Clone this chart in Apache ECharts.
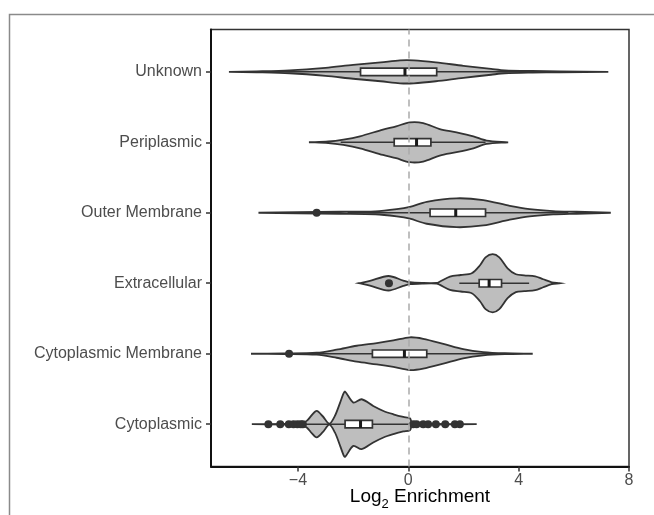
<!DOCTYPE html>
<html>
<head>
<meta charset="utf-8">
<script src="https://cdn.jsdelivr.net/npm/echarts@6/dist/echarts.min.js"></script>
<style>
  html, body { margin: 0; padding: 0; background: #fff; }
  #chart { width: 654px; height: 515px; }
</style>
</head>
<body>
<div id="chart"></div>
<script>
// categories, bottom to top
const categories = ['Cytoplasmic', 'Cytoplasmic Membrane', 'Extracellular', 'Outer Membrane', 'Periplasmic', 'Unknown']
const xTicks = [-4, 0, 4, 8]

// violin outlines: log2 enrichment and density half-width (category units)
const cytoX = [-5.67, -4.5, -3.9, -3.68, -3.5, -3.32, -3.1, -2.86, -2.66, -2.47, -2.35, -2.29, -1.99, -1.69, -1.27, -0.9, -0.54, -0.18, 0.06, 0.15, 1.0, 2.48]
const cytoD = [0, 0.004, 0.011, 0.047, 0.127, 0.188, 0.113, 0.007, 0.117, 0.307, 0.434, 0.463, 0.307, 0.354, 0.259, 0.188, 0.141, 0.103, 0.085, 0.014, 0.004, 0]

const cytoMemX = [-5.70, -4.5, -3.32, -2.6, -1.87, -1.14, -0.54, 0.06, 0.54, 1.27, 1.99, 2.72, 3.5, 4.51]
const cytoMemD = [0, 0.004, 0.014, 0.057, 0.113, 0.151, 0.188, 0.233, 0.212, 0.141, 0.066, 0.024, 0.007, 0]

const extraX = [-1.79, -1.39, -0.72, -0.18, 0.06, 0.5, 1.03, 1.15, 1.51, 1.9, 2.3, 2.6, 2.8, 3.06, 3.3, 3.6, 3.9, 4.2, 4.6, 4.89, 5.2, 5.47]
const extraD = [0, 0.033, 0.103, 0.038, 0.014, 0.004, 0.004, 0.024, 0.094, 0.117, 0.141, 0.255, 0.368, 0.414, 0.368, 0.212, 0.127, 0.113, 0.099, 0.057, 0.014, 0]

const outerX = [-5.43, -4.0, -2.5, -1.2, -0.42, 0.06, 0.67, 1.75, 2.72, 3.68, 4.4, 5.25, 6.1, 7.34]
const outerD = [0, 0.007, 0.014, 0.021, 0.052, 0.085, 0.156, 0.205, 0.180, 0.099, 0.052, 0.024, 0.014, 0]

const periX = [-3.6, -2.9, -2.35, -1.75, -0.92, -0.44, 0.06, 0.54, 1.14, 1.75, 2.36, 2.84, 3.62]
const periD = [0, 0.011, 0.038, 0.085, 0.180, 0.226, 0.283, 0.273, 0.188, 0.141, 0.085, 0.024, 0]

const unknownX = [-6.5, -5.5, -4.3, -3.0, -2.0, -1.0, -0.3, 0.2, 1.0, 2.0, 3.0, 3.5, 4.5, 5.5, 7.25]
const unknownD = [0, 0.007, 0.021, 0.057, 0.099, 0.134, 0.163, 0.163, 0.134, 0.085, 0.042, 0.021, 0.011, 0.007, 0]

// box stats: [whisker low, q1, median, q3, whisker high]
const cytoBox = [-3.75, -2.29, -1.73, -1.30, 0.1]
const cytoMemBox = [-4.2, -1.30, -0.14, 0.67, 3.5]
const extraBox = [1.85, 2.57, 2.93, 3.38, 4.38]
const outerBox = [-2.2, 0.79, 1.72, 2.80, 5.8]
const periBox = [-2.45, -0.51, 0.30, 0.82, 2.8]
const unknownBox = [-5.87, -1.73, -0.12, 1.03, 5.17]

// outliers per category
const cytoOut = [-5.07, -4.64, -4.33, -4.16, -4.02, -3.9, -3.82, 0.18, 0.30, 0.54, 0.72, 1.0, 1.34, 1.69, 1.87]
const cytoMemOut = [-4.32]
const extraOut = [-0.70]
const outerOut = [-3.32]

const violinX = [cytoX, cytoMemX, extraX, outerX, periX, unknownX]
const violinD = [cytoD, cytoMemD, extraD, outerD, periD, unknownD]
const boxes = [cytoBox, cytoMemBox, extraBox, outerBox, periBox, unknownBox]
const outliers = [cytoOut, cytoMemOut, extraOut, outerOut, [], []]

const BOX_H = 0.053
const INK = '#333333'

var outlierData = []
outliers.forEach(function(list, i) {
  list.forEach(function(v) { outlierData.push([v, i + 1]) })
})

function renderViolin(params, api) {
  var i = api.value(0)
  var yc = i + 1
  var xs = violinX[i], ds = violinD[i]
  var pts = []
  for (var k = 0; k < xs.length; k++) pts.push(api.coord([xs[k], yc + ds[k]]))
  for (var k2 = xs.length - 1; k2 >= 0; k2--) pts.push(api.coord([xs[k2], yc - ds[k2]]))
  var b = boxes[i]
  var lo = api.coord([b[0], yc]), hi = api.coord([b[4], yc])
  var tl = api.coord([b[1], yc + BOX_H]), br = api.coord([b[3], yc - BOX_H])
  var mt = api.coord([b[2], yc + BOX_H]), mb = api.coord([b[2], yc - BOX_H])
  return {
    type: 'group',
    children: [
      { type: 'polygon', shape: { points: pts, smooth: 0.3 }, style: { fill: '#bebebe', stroke: INK, lineWidth: 1.8 } },
      { type: 'line', shape: { x1: lo[0], y1: lo[1], x2: hi[0], y2: hi[1] }, style: { stroke: INK, lineWidth: 1.6 } },
      { type: 'rect', shape: { x: tl[0], y: tl[1], width: br[0] - tl[0], height: br[1] - tl[1] }, style: { fill: '#fff', stroke: INK, lineWidth: 1.7 } },
      { type: 'line', shape: { x1: mt[0], y1: mt[1], x2: mb[0], y2: mb[1] }, style: { stroke: '#1a1a1a', lineWidth: 3 } }
    ]
  }
}

var chart = echarts.init(document.getElementById('chart'))
chart.setOption({
  animation: false,
  backgroundColor: '#fff',
  graphic: [{
    type: 'rect', left: 7, top: 12, silent: true, z: -1,
    shape: { width: 700, height: 600 },
    style: { fill: 'none', stroke: '#8a8a8a', lineWidth: 1.5 }
  }],
  grid: { left: 211, right: 25, top: 29.5, bottom: 48.5, show: true, borderColor: INK, borderWidth: 1.5, outerBoundsMode: 'none' },
  xAxis: {
    type: 'value', min: -7.15, max: 8,
    splitLine: { show: false },
    axisLine: { onZero: false, lineStyle: { color: '#111', width: 2 } },
    axisTick: { show: true, length: 5, customValues: xTicks, lineStyle: { color: INK, width: 1.5 } },
    axisLabel: {
      customValues: xTicks, margin: 6, color: '#4d4d4d', fontSize: 16,
      fontFamily: '"Liberation Sans Narrow", "Liberation Sans", Arial, sans-serif',
      formatter: function(v) { return String(v).replace('-', '\u2212') }
    },
    name: '{a|Log}{b|2}{a| Enrichment}',
    nameLocation: 'middle', nameGap: 16, nameMoveOverlap: false,
    nameTextStyle: {
      rich: {
        a: { fontSize: 19, color: '#000', fontFamily: '"Liberation Sans", Arial, sans-serif', lineHeight: 28, verticalAlign: 'middle' },
        b: { fontSize: 13, color: '#000', fontFamily: '"Liberation Sans", Arial, sans-serif', lineHeight: 28, verticalAlign: 'bottom' }
      }
    }
  },
  yAxis: {
    type: 'value', min: 0.4, max: 6.6,
    splitLine: { show: false },
    axisLine: { onZero: false, lineStyle: { color: '#111', width: 2 } },
    axisTick: { show: true, length: 5, customValues: [1, 2, 3, 4, 5, 6], lineStyle: { color: INK, width: 1.5 } },
    axisLabel: {
      customValues: [1, 2, 3, 4, 5, 6], margin: 9, color: '#4d4d4d', fontSize: 16,
      fontFamily: '"Liberation Sans", Arial, sans-serif',
      formatter: function(v) { return categories[Math.round(v) - 1] }
    }
  },
  series: [
    {
      type: 'custom', z: 2,
      renderItem: renderViolin,
      data: categories.map(function(c, i) { return [i] }),
      encode: { x: -1, y: -1 }
    },
    {
      type: 'scatter', z: 3,
      symbolSize: 8,
      itemStyle: { color: INK, opacity: 1 },
      data: outlierData,
      markLine: {
        silent: true, symbol: 'none', z: 4,
        label: { show: false },
        lineStyle: { type: [7, 5], color: '#aaaaaa', width: 1.5 },
        data: [{ xAxis: 0 }]
      }
    }
  ]
})
</script>
</body>
</html>
